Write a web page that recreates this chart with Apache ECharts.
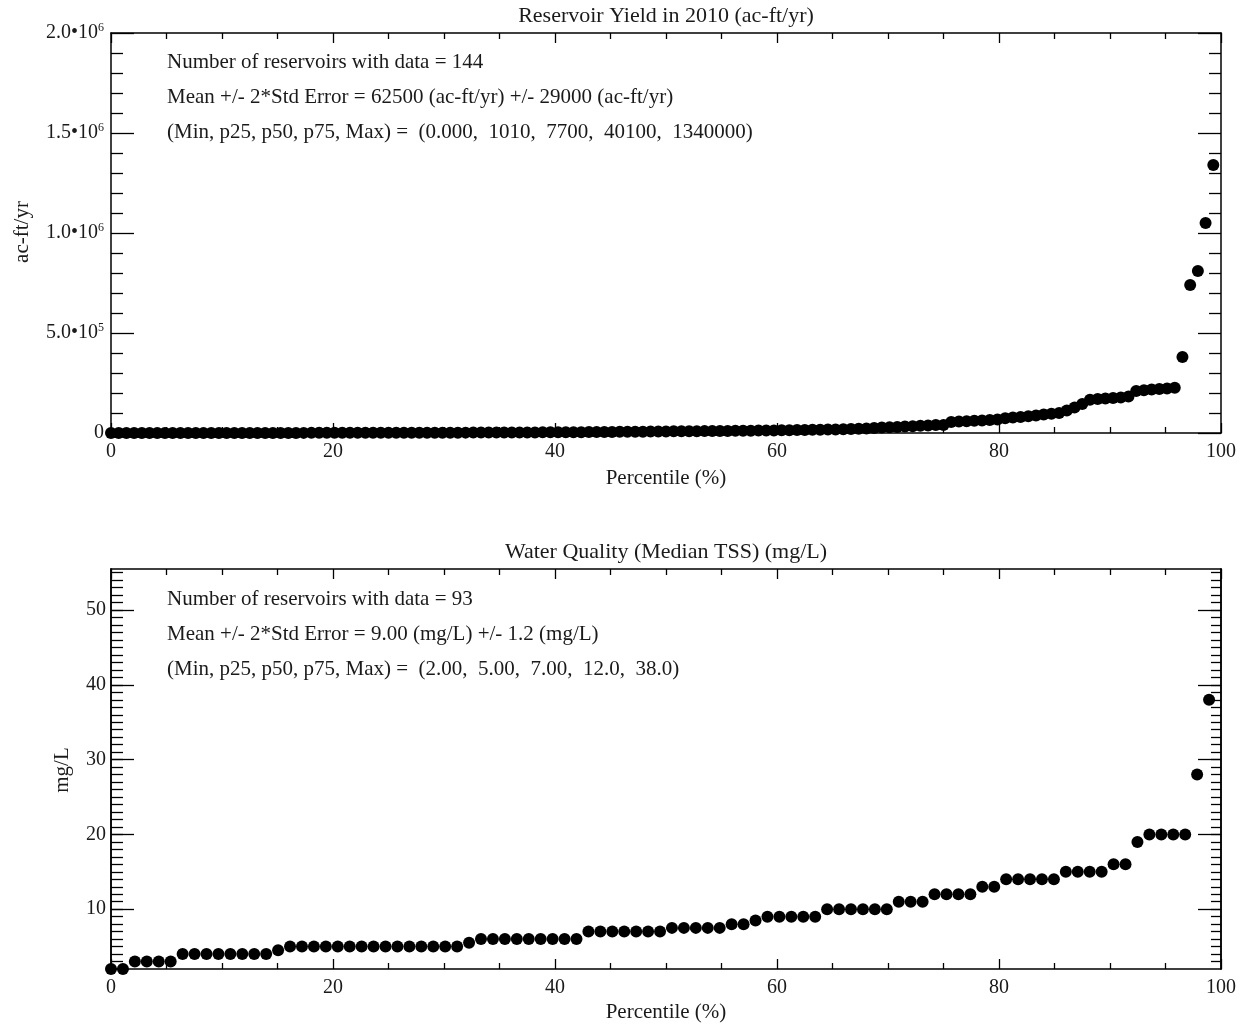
<!DOCTYPE html>
<html>
<head>
<meta charset="utf-8">
<title>Reservoir Yield and Water Quality</title>
<script src="https://cdn.jsdelivr.net/npm/echarts@6/dist/echarts.min.js"></script>
<style>
html, body { margin: 0; padding: 0; background: #fff; }
#chart { width: 1247px; height: 1026px; }
</style>
</head>
<body>
<div id="chart"></div>
<script>
// sorted reservoir yield in 2010 (ac-ft/yr), 144 reservoirs
const yieldValues = [
  0, 0, 12, 25, 40, 55, 70, 90, 110, 130,
  150, 175, 200, 225, 250, 280, 310, 340, 370, 400,
  430, 465, 500, 535, 570, 605, 640, 680, 720, 760,
  800, 840, 880, 920, 960, 1000,
  1040, 1100, 1170, 1240, 1310, 1390, 1470, 1550, 1640, 1740,
  1840, 1950, 2060, 2180, 2310, 2450, 2590, 2740, 2900, 3070,
  3250, 3440, 3640, 3850, 4080, 4320, 4570, 4840, 5120, 5420,
  5740, 6070, 6420, 6800, 7200, 7600,
  7800, 8200, 8500, 8800, 9100, 9400, 9700, 10000, 10400, 10800,
  11200, 11600, 12000, 12500, 13000, 13500, 14000, 14600, 15200, 15800,
  16500, 17200, 18000, 19000, 20000, 21500, 23000, 25000,
  27000, 28500, 30000, 32000, 34000, 36000, 38000, 40000, 40500,
  55000, 57000, 59000, 61000, 63000, 65000, 68000,
  74000, 77000, 80000, 84000, 88000, 92000, 96000, 100000,
  112000, 128000, 145000,
  166000, 170000, 172000, 175000, 178000, 182000,
  210000, 214000, 218000, 220000, 223000, 226000,
  380000, 740000, 810000, 1050000, 1340000
];

// sorted median TSS (mg/L), 93 reservoirs
const tssValues = [
  2, 2, 3, 3, 3, 3, 4, 4, 4, 4, 4, 4, 4, 4, 4.5,
  5, 5, 5, 5, 5, 5, 5, 5, 5, 5, 5, 5, 5, 5, 5, 5.5,
  6, 6, 6, 6, 6, 6, 6, 6, 6,
  7, 7, 7, 7, 7, 7, 7, 7.5, 7.5, 7.5, 7.5, 7.5,
  8, 8, 8.5, 9, 9, 9, 9, 9,
  10, 10, 10, 10, 10, 10, 11, 11, 11, 12, 12, 12, 12, 13, 13,
  14, 14, 14, 14, 14, 15, 15, 15, 15, 16, 16, 19,
  20, 20, 20, 20, 28, 38
];

const yieldStats = [
  'Number of reservoirs with data = 144',
  'Mean +/- 2*Std Error = 62500 (ac-ft/yr) +/- 29000 (ac-ft/yr)',
  '(Min, p25, p50, p75, Max) =  (0.000,  1010,  7700,  40100,  1340000)'
];
const tssStats = [
  'Number of reservoirs with data = 93',
  'Mean +/- 2*Std Error = 9.00 (mg/L) +/- 1.2 (mg/L)',
  '(Min, p25, p50, p75, Max) =  (2.00,  5.00,  7.00,  12.0,  38.0)'
];
const tssMajorTicks = [10, 20, 30, 40, 50];
const tssMinorTicks = [];
for (let t = 3; t <= 55; t++) tssMinorTicks.push(t);

const FONT = '"Liberation Serif", "Times New Roman", serif';
const INK = '#1a1a1a';

// sorted values -> [percentile, value]
function toPercentile(values) {
  return values.map((v, i) => [i * 100 / values.length, v]);
}

function sciLabel(v) {
  if (v === 0) return '{m|0}';
  const e = Math.floor(Math.log10(v));
  const m = (v / Math.pow(10, e)).toFixed(1);
  return '{m|' + m + '•10}{s|' + e + '}';
}

let axisLine = { show: true, onZero: false, lineStyle: { color: '#000', width: 1.5 } };

function xAxes(grid) {
  let base = {
    gridIndex: grid, type: 'value', min: 0, max: 100, interval: 20,
    axisLine: axisLine, splitLine: { show: false },
    axisTick: { inside: true, length: 10, lineStyle: { color: '#000', width: 1.3 } },
    minorTick: { show: true, splitNumber: 4, length: 6, lineStyle: { color: '#000', width: 1.3 } }
  };
  return [
    Object.assign({}, base, { position: 'bottom',
      axisLabel: { margin: 9, fontSize: 20, fontFamily: FONT, color: INK } }),
    Object.assign({}, base, { position: 'top', axisLabel: { show: false } })
  ];
}

function yieldAxis(pos) {
  return {
    gridIndex: 0, type: 'value', position: pos, min: 0, max: 2000000, interval: 500000,
    axisLine: axisLine, splitLine: { show: false },
    axisTick: { inside: true, length: 23, lineStyle: { color: '#000', width: 1.3 } },
    minorTick: { show: true, splitNumber: 5, length: 12, lineStyle: { color: '#000', width: 1.3 } },
    axisLabel: pos === 'left' ? {
      margin: 7, formatter: sciLabel,
      rich: {
        m: { fontSize: 20, fontFamily: FONT, color: INK },
        s: { fontSize: 12, fontFamily: FONT, color: INK, padding: [0, 0, 11, 0] }
      }
    } : { show: false }
  };
}

function tssAxis(pos, ticks, len, labels) {
  return {
    gridIndex: 1, type: 'value', position: pos, min: 2, max: 55.5,
    axisLine: axisLine, splitLine: { show: false },
    axisTick: { inside: true, length: len, customValues: ticks, lineStyle: { color: '#000', width: 1.3 } },
    axisLabel: labels ? { margin: 5, customValues: ticks, fontSize: 20, fontFamily: FONT, color: INK } : { show: false }
  };
}

function textLines(lines, x, y0) {
  return lines.map((t, k) => ({
    type: 'text', x: x, y: y0 + k * 35,
    style: { text: t, fontSize: 21, fontFamily: FONT, fill: INK, align: 'left', verticalAlign: 'middle' }
  }));
}

function label(t, x, y, rot, size) {
  return {
    type: 'text', x: x, y: y, rotation: rot || 0,
    style: { text: t, fontSize: size || 21, fontFamily: FONT, fill: INK, align: 'center', verticalAlign: 'middle' }
  };
}

let chart = echarts.init(document.getElementById('chart'));
let option = {
  animation: false,
  backgroundColor: '#fff',
  grid: [
    { left: 111, top: 33, width: 1110, height: 400 },
    { left: 111, top: 569, width: 1110, height: 400 }
  ],
  xAxis: xAxes(0).concat(xAxes(1)),
  yAxis: [
    yieldAxis('left'), yieldAxis('right'),
    tssAxis('left', tssMajorTicks, 23, true), tssAxis('left', tssMinorTicks, 12, false),
    tssAxis('right', tssMajorTicks, 23, false), tssAxis('right', tssMinorTicks, 10, false)
  ],
  series: [
    {
      type: 'scatter', xAxisIndex: 0, yAxisIndex: 0, data: toPercentile(yieldValues),
      symbol: 'circle', symbolSize: 12, itemStyle: { color: '#000', opacity: 1 }, clip: false
    },
    {
      type: 'scatter', xAxisIndex: 2, yAxisIndex: 2, data: toPercentile(tssValues),
      symbol: 'circle', symbolSize: 12, itemStyle: { color: '#000', opacity: 1 }, clip: false
    }
  ],
  graphic: [
    label('Reservoir Yield in 2010 (ac-ft/yr)', 666, 16, 0, 22),
    label('Water Quality (Median TSS) (mg/L)', 666, 552, 0, 22),
    label('Percentile (%)', 666, 478),
    label('Percentile (%)', 666, 1012),
    label('ac-ft/yr', 22, 232, Math.PI / 2),
    label('mg/L', 62, 770, Math.PI / 2)
  ].concat(textLines(yieldStats, 167, 62), textLines(tssStats, 167, 599))
};
option && chart.setOption(option);
</script>
</body>
</html>
